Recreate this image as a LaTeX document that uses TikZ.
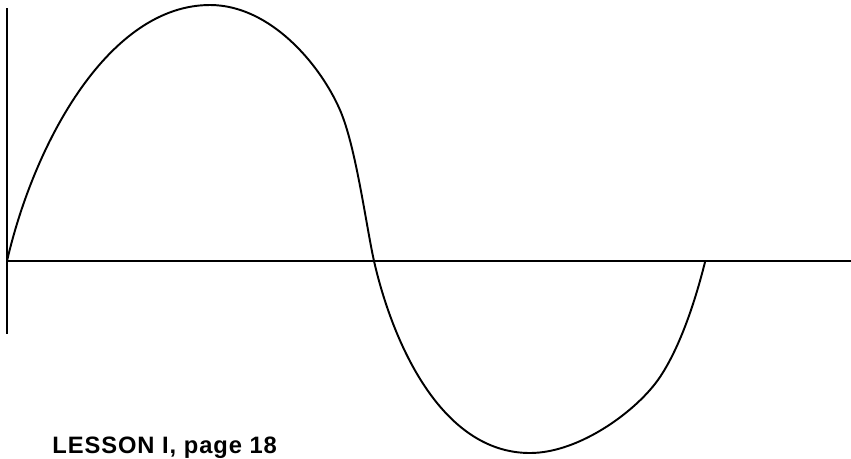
\documentclass[tikz,border=0pt]{standalone}
\usepackage{fontspec}
\setmainfont{Liberation Sans}
\begin{document}
\begin{tikzpicture}[x=0.02cm,y=-0.02cm]
  \useasboundingbox (0,0) rectangle (851,458);
  % axes
  \coordinate (top) at (7,8);
  \coordinate (bottom) at (7,334);
  \coordinate (origin) at (7,261);
  \coordinate (right) at (851,261);
  \draw[line width=0.8pt] (top) -- (bottom);
  \draw[line width=1pt] (origin) -- (right);
  % wave
  \coordinate (peak) at (210,5);
  \coordinate (zero) at (374,261);
  \coordinate (trough) at (530,453);
  \coordinate (end) at (705,262);
  \draw[line width=1.1pt] (origin)
    .. controls (35,140) and (110,5) .. (peak)
    .. controls (270,5) and (320,64) .. (340,110)
    .. controls (356,147) and (366,225) .. (zero)
    .. controls (392,340) and (440,453) .. (trough)
    .. controls (580,453) and (638,410) .. (660,377)
    .. controls (680,347) and (695,302) .. (end);
  % caption
  \node[anchor=base west,inner sep=0pt,font=\bfseries\fontsize{13.5}{16}\selectfont\addfontfeature{LetterSpace=4}] (caption) at (52,453) {LESSON I, page 18};
\end{tikzpicture}
\end{document}
